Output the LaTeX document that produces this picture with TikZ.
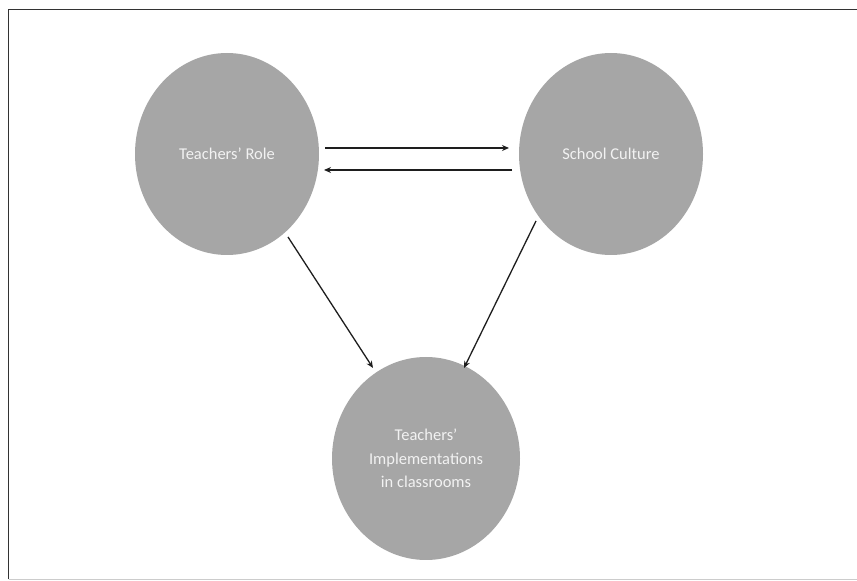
\documentclass[tikz,border=0pt]{standalone}
\usepackage{fontspec}
\setmainfont{Carlito}
\usetikzlibrary{arrows.meta,shapes.geometric}
\definecolor{bubble}{RGB}{166,166,166}
\definecolor{bubbletext}{RGB}{242,242,242}
\definecolor{arrowcol}{RGB}{30,30,30}
\begin{document}
\begin{tikzpicture}[x=1pt,y=1pt,
  bubble/.style={ellipse, fill=bubble, inner sep=0pt, outer sep=0pt, text=bubbletext, font=\fontsize{16.5}{23.5}\selectfont, align=center},
  link/.style={draw=arrowcol, line width=1.3pt, -{Stealth[length=7pt,width=6pt]}}]
\useasboundingbox (0,0) rectangle (857,581);
\draw[line width=1.2pt, draw=black!80] (8.5,581-579.5) -- (8.5,581-9.5) -- (857,581-9.5);
\draw[line width=1.2pt, draw=black!20] (8.5,581-579.5) -- (857,581-579.5);
\node[bubble, minimum width=184pt, minimum height=202pt] (role) at (227,581-154) {Teachers’ Role};
\node[bubble, minimum width=184pt, minimum height=202pt] (culture) at (611,581-154) {School Culture};
\node[bubble, minimum width=188pt, minimum height=203pt] (impl) at (426,581-458.5) {Teachers’\\Implementations\\in classrooms};
\coordinate (a1s) at (325,581-148);
\coordinate (a1e) at (509,581-148);
\coordinate (a2s) at (512,581-170);
\coordinate (a2e) at (324,581-170);
\coordinate (a3s) at (288,581-237);
\coordinate (a3e) at (373,581-368);
\coordinate (a4s) at (536,581-221);
\coordinate (a4e) at (464,581-368);
\draw[link] (a1s) -- (a1e);
\draw[link] (a2s) -- (a2e);
\draw[link] (a3s) -- (a3e);
\draw[link] (a4s) -- (a4e);
\end{tikzpicture}
\end{document}
